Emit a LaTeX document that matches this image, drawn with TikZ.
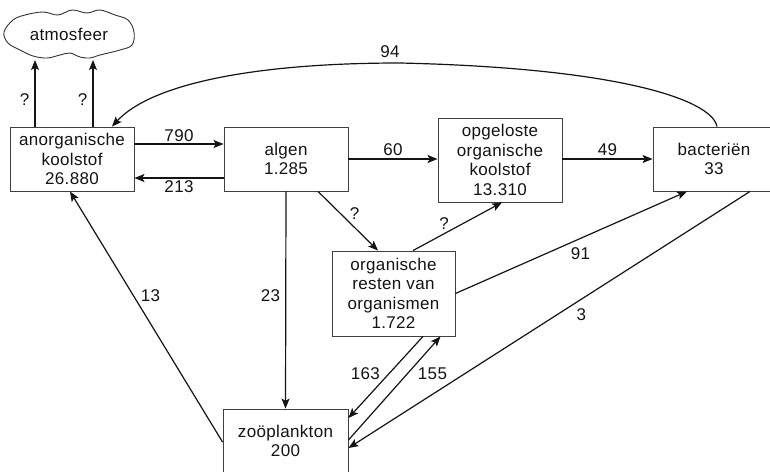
\documentclass[tikz,border=0pt]{standalone}
\usepackage{fontspec}
\setmainfont{Liberation Sans}[LetterSpace=2]
\usetikzlibrary{arrows.meta,calc}
\begin{document}
\begin{tikzpicture}[x=1pt,y=-1pt,
  font=\fontsize{17}{19.5}\selectfont,
  box/.style={draw=black!75, line width=0.9pt, align=center, inner sep=0pt, text=black!92},
  flow/.style={-{Stealth[length=10pt,width=8pt,inset=2.2pt]}, line width=1.2pt, draw=black!92},
  lbl/.style={text=black!92, inner sep=1pt}]
\useasboundingbox (0,0) rectangle (770,471);
\clip (0,0) rectangle (770,471);
\fill[white] (0,0) rectangle (770,471);

% boxes
\node[box, minimum width=124pt, minimum height=64pt] (ano) at (72,159) {anorganische\\koolstof\\26.880};
\node[box, minimum width=124pt, minimum height=64pt] (alg) at (286,159) {algen\\1.285};
\node[box, minimum width=124pt, minimum height=84pt] (opg) at (500,160) {opgeloste\\organische\\koolstof\\13.310};
\node[box, minimum width=122pt, minimum height=64pt] (bac) at (714,159) {bacteriën\\33};
\node[box, minimum width=123pt, minimum height=85pt] (org) at (393.5,293.5) {organische\\resten van\\organismen\\1.722};
\node[box, minimum width=125pt, minimum height=64pt] (zoo) at (285.5,441) {zoöplankton\\200};

% cloud
\draw[black!80, line width=0.9pt] plot[smooth cycle, tension=0.6] coordinates {(4,32) (13,20) (25,15) (43,12) (58,15) (72,10) (87,13) (100,10) (115,15) (128,20) (134,32) (132,45) (120,50) (100,55) (90,58) (80,57) (70,53) (60,55) (47,58) (33,56) (20,50) (8,43)};
\node[text=black!92] (atm) at (69,34) {atmosfeer};
\coordinate (a1) at (35,60);
\coordinate (a2) at (93,60);

% flows to atmosphere
\draw[flow] (a1 |- ano.north) -- (a1) node[lbl, pos=.4, left=4pt] {?};
\draw[flow] (a2 |- ano.north) -- (a2) node[lbl, pos=.4, left=4pt] {?};

% horizontal flows
\draw[flow] ([yshift=15pt]ano.east) -- ([yshift=15pt]alg.west) node[lbl, midway, above=1pt] {790};
\draw[flow] ([yshift=-19pt]alg.west) -- ([yshift=-19pt]ano.east) node[lbl, midway, below=1pt] {213};
\draw[flow] (alg.east) -- (alg.east -| opg.west) node[lbl, midway, above=2pt] {60};
\draw[flow] (opg.east |- bac.west) -- (bac.west) node[lbl, midway, above=2pt] {49};

% diagonal flows
\draw[flow] ([xshift=32pt]alg.south) -- ([xshift=-15.5pt]org.north) node[lbl, pos=.37, right=8pt] {?};
\draw[flow] ([xshift=19.5pt]org.north) -- ([xshift=2pt]opg.south) node[lbl, pos=.35, above=3pt] {?};
\draw[flow] (org.east) -- ([xshift=-27pt]bac.south) node[lbl, pos=.54, below=8pt] {91};
\draw[flow] ([xshift=36pt]bac.south) -- ([yshift=-7pt]zoo.east) node[lbl, pos=.42, below=8pt] {3};
\draw[flow] ([xshift=29.5pt]org.south) -- ([yshift=23pt]zoo.east) node[lbl, pos=.45, left=8pt] {163};
\draw[flow] ([yshift=1pt]zoo.east) -- ([xshift=47pt]org.south) node[lbl, pos=.64, right=9pt] {155};
\draw[flow] (alg.south) -- (zoo.north) node[lbl, pos=.48, left=4pt] {23};
\draw[flow] ([yshift=-1pt]zoo.west) -- ([xshift=-2pt]ano.south) node[lbl, pos=.585, right=6pt] {13};

% return flow from bacteria
\draw[flow] ([xshift=3pt]bac.north) .. controls (712,100) and (620,68) .. (400,63)
  .. controls (250,63) and (150,85) .. ([xshift=40pt]ano.north);
\node[lbl] (l94) at (390,52) {94};
\end{tikzpicture}
\end{document}
